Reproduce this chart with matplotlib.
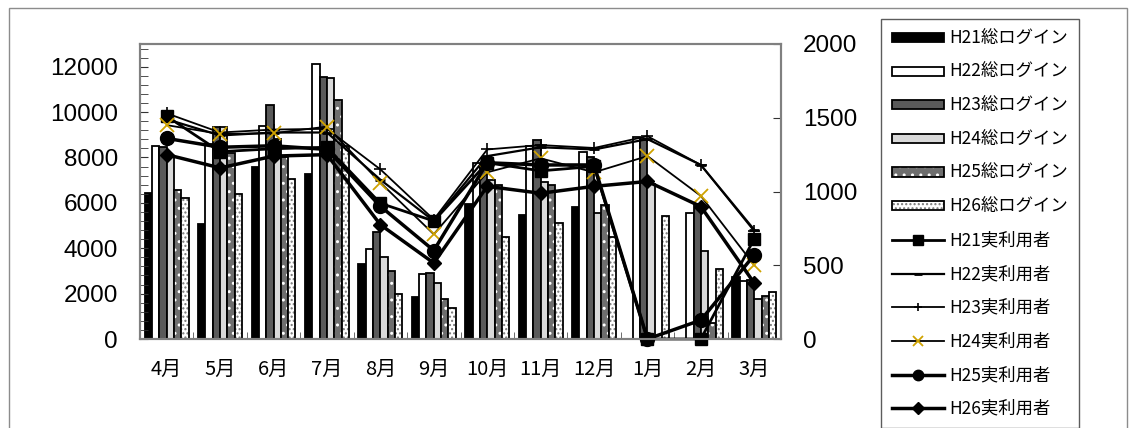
import matplotlib
matplotlib.use("Agg")
import matplotlib.pyplot as plt
import numpy as np
from matplotlib.patches import Rectangle, Patch
from matplotlib.lines import Line2D
from matplotlib.ticker import MultipleLocator

plt.rcParams["font.family"] = ["Noto Sans CJK JP", "DejaVu Sans"]

months = ["4月", "5月", "6月", "7月", "8月", "9月", "10月", "11月", "12月", "1月", "2月", "3月"]

# 総ログイン (left axis)
login_h21 = [6450, 5050, 7600, 7250, 3300, 1850, 5950, 5450, 5800, 0, 0, 2750]
login_h22 = [8500, 8600, 9400, 12100, 3950, 2850, 7750, 8500, 8250, 8900, 5550, 2550]
login_h23 = [8450, 9350, 10300, 11550, 4700, 2900, 7700, 8750, 8000, 8800, 5950, 2600]
login_h24 = [8000, 9350, 8800, 11500, 3600, 2450, 7000, 6900, 5550, 6850, 3900, 1750]
login_h25 = [6550, 8200, 8000, 10550, 3000, 1750, 6800, 6800, 5900, 0, 700, 1900]
login_h26 = [6200, 6400, 7050, 8500, 2000, 1350, 4500, 5100, 4500, 5400, 3100, 2050]

# 実利用者 (right axis)
users_h21 = [1510, 1270, 1290, 1300, 920, 800, 1195, 1140, 1170, 0, 0, 680]
users_h22 = [1490, 1380, 1400, 1400, 1080, 800, 1240, 1300, 1285, 1355, 1180, 740]
users_h23 = [1530, 1400, 1420, 1425, 1150, 810, 1285, 1315, 1295, 1375, 1180, 730]
users_h24 = [1450, 1390, 1395, 1440, 1060, 710, 1130, 1225, 1130, 1240, 970, 500]
users_h25 = [1360, 1300, 1310, 1285, 900, 600, 1195, 1180, 1180, 0, 128, 570]
users_h26 = [1250, 1160, 1240, 1250, 775, 515, 1035, 988, 1035, 1068, 898, 378]

x = np.arange(len(months))
gold = "#CFA200"

fig = plt.figure(figsize=(11.36, 4.28), dpi=100)
ax = fig.add_axes([140 / 1136, 1 - 339 / 428, (781 - 140) / 1136, (339 - 44) / 428])

# bars: (values, face, hatch, hatch colour, label)
bar_specs = [
    (login_h21, "black", None, None, "H21総ログイン"),
    (login_h22, "white", None, None, "H22総ログイン"),
    (login_h23, "#5a5a5a", None, None, "H23総ログイン"),
    (login_h24, "#d9d9d9", None, None, "H24総ログイン"),
    (login_h25, "#6e6e6e", "..", "white", "H25総ログイン"),
    (login_h26, "white", "....", "#777777", "H26総ログイン"),
]
w = 0.137
handles = []
for i, (vals, face, hatch, hcol, label) in enumerate(bar_specs):
    pos = x + (i - 2.5) * w
    if hatch:
        ax.bar(pos, vals, w, color=face, edgecolor=hcol, hatch=hatch, linewidth=0)
        ax.bar(pos, vals, w, facecolor="none", edgecolor="black", linewidth=1.3)
        handles.append((Patch(facecolor=face, edgecolor=hcol, hatch=hatch, linewidth=0),
                        Patch(facecolor="none", edgecolor="black", linewidth=1.3)))
    else:
        ax.bar(pos, vals, w, color=face, edgecolor="black", linewidth=1.3)
        handles.append(Patch(facecolor=face, edgecolor="black", linewidth=1.3))

ax.set_xlim(-0.5, 11.5)
ax.set_ylim(0, 13000)
ax.yaxis.set_major_locator(MultipleLocator(2000))
ax.yaxis.set_minor_locator(MultipleLocator(400))
ax.set_yticks(range(0, 12001, 2000))
ax.set_xticks(x)
ax.set_xticklabels(months)
ax.xaxis.set_minor_locator(MultipleLocator(1, offset=0.5))
ax.tick_params(axis="x", which="major", length=0, labelsize=14.5, pad=14)
ax.tick_params(axis="x", which="minor", direction="in", length=5, color="#555555")
ax.tick_params(axis="y", which="both", direction="in", length=6, color="#333333",
               labelsize=17.5, pad=16, labelfontfamily="Liberation Sans")
for s in ax.spines.values():
    s.set_color("#808080")
    s.set_linewidth(1.5)

# lines on secondary axis
ax2 = ax.twinx()
line_specs = [
    (users_h21, "s", 9, "black", 2.0, 1.0, "H21実利用者"),
    (users_h22, "_", 7, "black", 1.6, 2.0, "H22実利用者"),
    (users_h23, "+", 8, "black", 1.3, 1.2, "H23実利用者"),
    (users_h24, "x", 10, gold, 1.3, 1.3, "H24実利用者"),
    (users_h25, "o", 10, "black", 2.5, 1.0, "H25実利用者"),
    (users_h26, "D", 7.5, "black", 2.5, 1.0, "H26実利用者"),
]
for vals, mk, ms, mcol, lw, mew, label in line_specs:
    ax2.plot(x, vals, color="black", linewidth=lw, marker=mk, markersize=ms,
             markerfacecolor=mcol, markeredgecolor=mcol, markeredgewidth=mew,
             clip_on=False)
    handles.append(Line2D([], [], color="black", linewidth=lw, marker=mk,
                          markersize=ms * 0.75, markerfacecolor=mcol,
                          markeredgecolor=mcol, markeredgewidth=mew))
ax2.set_ylim(0, 2000)
ax2.set_yticks(range(0, 2001, 500))
ax2.tick_params(axis="y", direction="in", length=6, color="#333333",
                labelsize=17.5, pad=16, labelfontfamily="Liberation Sans")
for s in ax2.spines.values():
    s.set_color("#808080")
    s.set_linewidth(1.5)

labels = [s[-1] for s in bar_specs] + [s[-1] for s in line_specs]
leg = fig.legend(handles, labels, loc="upper left",
                 bbox_to_anchor=(881 / 1136, 1 - 19 / 428),
                 borderaxespad=0, fontsize=12.5, frameon=True, fancybox=False,
                 handlelength=3.0, handleheight=0.45, handletextpad=0.3,
                 labelspacing=0.9, borderpad=0.62)
leg.get_frame().set_edgecolor("#333333")
leg.get_frame().set_linewidth(1.0)

# outer chart frame
fig.add_artist(Rectangle((9 / 1136, -0.02), (1127 - 9) / 1136, 1 - 8 / 428 + 0.02,
                         transform=fig.transFigure, fill=False,
                         edgecolor="#8c8c8c", linewidth=1.0))

fig.savefig("out.png", dpi=100)
